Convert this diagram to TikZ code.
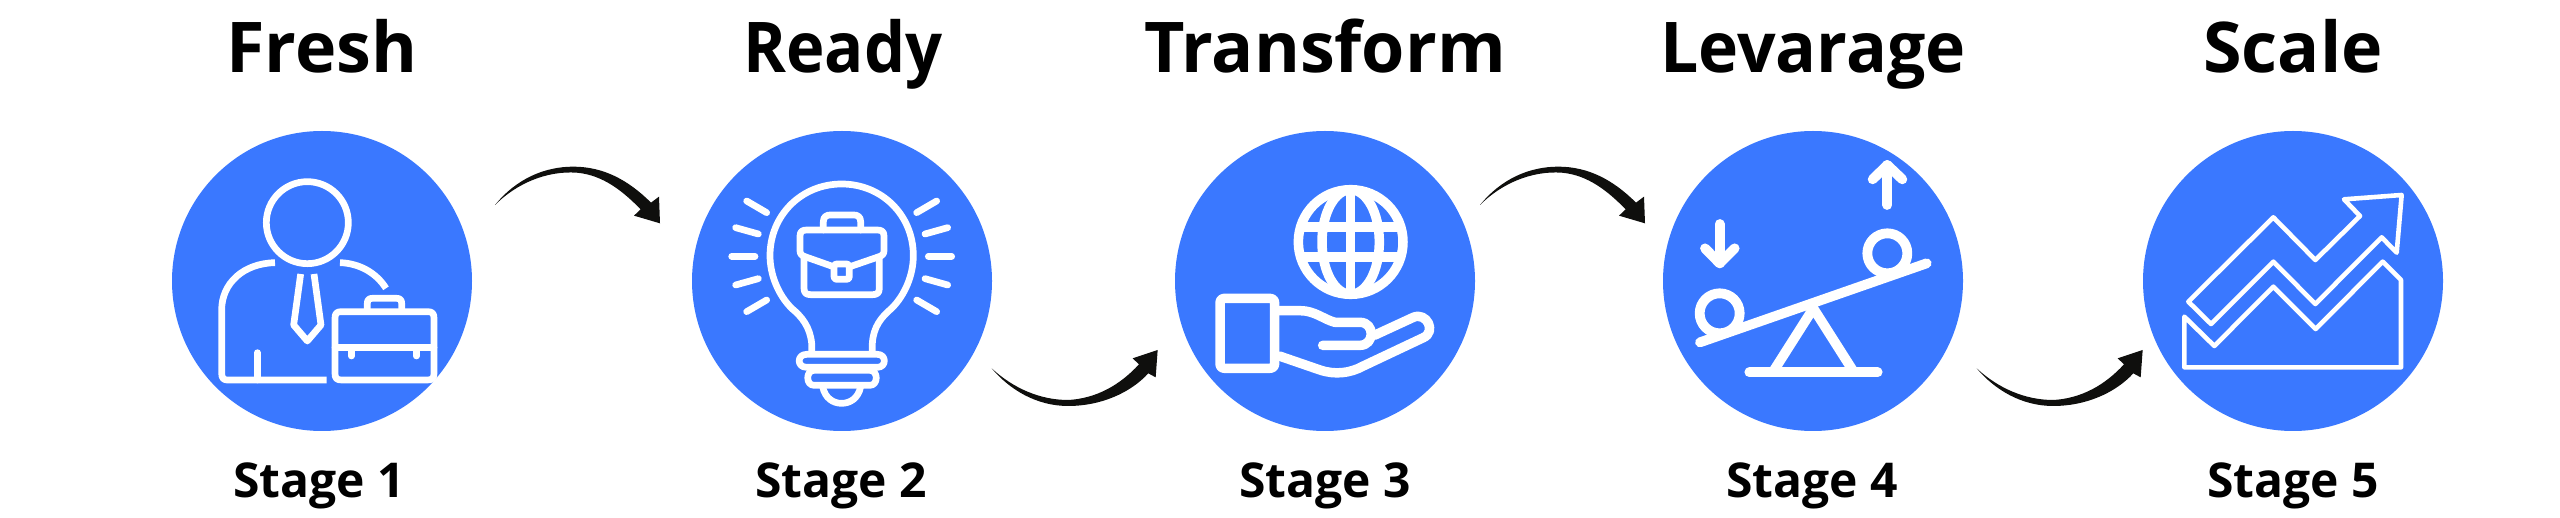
\documentclass[tikz,border=0pt]{standalone}
\usepackage{fontspec}
\setmainfont{Open Sans}
\definecolor{disc}{HTML}{3A78FF}
\definecolor{ink}{HTML}{0F0F0D}
\newcommand{\arrowover}{%
  \fill[ink] (45,165) .. controls (110,85) and (195,50) .. (280,50) .. controls (370,50) and (445,90) .. (513,158)
    -- (537,140) -- (540,220) -- (462,197) -- (482,178) .. controls (430,125) and (370,75) .. (290,68)
    .. controls (200,62) and (110,100) .. cycle;}
\newcommand{\arrowunder}{%
  \fill[ink] (35,115) .. controls (90,180) and (170,228) .. (265,228) .. controls (360,228) and (450,190) .. (505,130)
    -- (527,142) -- (533,60) -- (458,85) -- (477,103) .. controls (420,165) and (350,205) .. (265,210)
    .. controls (180,210) and (100,175) .. cycle;}
\tikzset{
  disc/.style={circle,fill=disc,minimum size=300pt,inner sep=0pt},
  ttl/.style={anchor=base,inner sep=0pt,text=black,font=\fontsize{70}{80}\selectfont\bfseries},
  stg/.style={anchor=base,inner sep=0pt,text=black,font=\fontsize{48}{58}\selectfont\bfseries},
  zoomed/.style={x=0.33333pt,y=-0.33333pt},
  icon/.style={draw=white,line width=6.7pt,line cap=round,line join=round},
  thin icon/.style={draw=white,line width=4.6pt,line join=round,line cap=round},
}
\begin{document}
\begin{tikzpicture}[x=1pt,y=-1pt]
\useasboundingbox (0,0) rectangle (2560,518);
\fill[white] (0,0) rectangle (2560,518);
% discs
\node[disc] (d1) at (322,281) {};
\node[disc] (d2) at (842,281) {};
\node[disc] (d3) at (1325,281) {};
\node[disc] (d4) at (1813,281) {};
\node[disc] (d5) at (2293,281) {};
% titles
\node[ttl] (t1) at (322,73) {Fresh};
\node[ttl] (t2) at (843,73) {\scalebox{0.93}[1]{Ready}};
\node[ttl] (t3) at (1325,73) {Transform};
\node[ttl] (t4) at (1813,73) {\scalebox{0.97}[1]{Levarage}};
\node[ttl] (t5) at (2293,73) {Scale};
% stage labels
\node[stg] (s1) at (319,497) {Stage 1};
\node[stg] (s2) at (841,497) {Stage 2};
\node[stg] (s3) at (1325,497) {Stage 3};
\node[stg] (s4) at (1812,497) {Stage 4};
\node[stg] (s5) at (2293,497) {Stage 5};
% arrows
\begin{scope}[shift={(480,150)},zoomed]\arrowover\end{scope}
\begin{scope}[shift={(1465,150)},zoomed]\arrowover\end{scope}
\begin{scope}[shift={(980,330)},zoomed]\arrowunder\end{scope}
\begin{scope}[shift={(1965,330)},zoomed]\arrowunder\end{scope}
% icon 1: person with briefcase
\begin{scope}[shift={(150,110)},zoomed]
\draw[icon] (472,338) circle (123);
\draw[icon,line cap=butt] (375,458) .. controls (280,460) and (215,520) .. (215,600) -- (215,790) .. controls (215,805) and (222,810) .. (232,810) -- (530,810);
\draw[icon,line cap=butt] (570,458) .. controls (630,460) and (680,490) .. (708,535);
\draw[icon] (322,728) -- (322,810);
\draw[icon,line cap=butt] (452,492) -- (431,645) -- (472,693) -- (513,645) -- (492,492);
\draw[icon] (555,625) .. controls (555,610) and (560,605) .. (575,605) -- (832,605) .. controls (847,605) and (852,610) .. (852,625) -- (852,790) .. controls (852,805) and (847,810) .. (832,810) -- (575,810) .. controls (560,810) and (555,805) .. (555,790) -- cycle;
\draw[icon] (652,600) -- (652,580) .. controls (652,570) and (657,565) .. (667,565) -- (740,565) .. controls (750,565) and (755,570) .. (755,580) -- (755,600);
\draw[icon] (555,713) -- (852,713);
\draw[icon] (604,713) -- (604,738);
\draw[icon] (799,713) -- (799,738);
\end{scope}
% icon 2: bulb with briefcase
\begin{scope}[shift={(670,110)},zoomed]
\draw[icon,line cap=butt] (425,725) -- (425,700) .. controls (420,650) and (395,620) .. (365,595) .. controls (325,555) and (300,495) .. (300,437) .. controls (300,315) and (395,222) .. (515,222) .. controls (635,222) and (730,315) .. (730,437) .. controls (730,495) and (705,555) .. (665,595) .. controls (635,620) and (610,650) .. (607,700) -- (607,725);
\draw[icon] (410,733) -- (622,733) .. controls (650,733) and (650,772) .. (622,772) -- (410,772) .. controls (380,772) and (380,733) .. (410,733) -- cycle;
\draw[icon] (432,781) -- (600,781) .. controls (625,781) and (625,826) .. (600,826) -- (432,826) .. controls (407,826) and (407,781) .. (432,781) -- cycle;
\draw[icon,line cap=butt] (458,830) .. controls (465,865) and (490,880) .. (515,880) .. controls (540,880) and (565,865) .. (572,830);
\draw[icon] (460,360) -- (460,335) .. controls (460,320) and (470,315) .. (480,315) -- (552,315) .. controls (562,315) and (572,320) .. (572,335) -- (572,360);
\draw[icon] (490,470) -- (405,440) .. controls (395,437) and (390,432) .. (390,422) -- (390,378) .. controls (390,365) and (397,360) .. (410,360) -- (622,360) .. controls (635,360) and (642,365) .. (642,378) -- (642,422) .. controls (642,432) and (637,437) .. (627,440) -- (540,470);
\draw[icon] (402,445) -- (402,535) .. controls (402,550) and (410,554) .. (422,554) -- (608,554) .. controls (620,554) and (628,550) .. (628,535) -- (628,445);
\draw[icon] (492,470) .. controls (492,465) and (495,462) .. (500,462) -- (530,462) .. controls (535,462) and (538,465) .. (538,470) -- (538,500) .. controls (538,505) and (535,508) .. (530,508) -- (500,508) .. controls (495,508) and (492,505) .. (492,500) -- cycle;
\foreach \a/\b/\c/\d in {230/273/290/308,197/353/265/372,185/439/255/439,197/525/265/506,230/605/290/570}{
  \draw[icon] (\a,\b) -- (\c,\d);
  \draw[icon] ({1030-\a},\b) -- ({1030-\c},\d);
}
\end{scope}
% icon 3: hand and globe
\begin{scope}[shift={(1160,110)},zoomed]
\draw[icon,line width=9.5pt] (572,396) circle (157);
\begin{scope}
\clip (572,396) circle (157);
\draw[icon,line width=9.5pt,line cap=butt] (572,230) -- (572,560);
\draw[icon,line width=9.5pt,line cap=butt] (400,351) -- (745,351);
\draw[icon,line width=9.5pt,line cap=butt] (400,441) -- (745,441);
\draw[icon,line width=9.5pt] (572,396) ellipse [x radius=86,y radius=157];
\end{scope}
\draw[icon,line width=9.5pt] (180,580) .. controls (180,570) and (185,565) .. (195,565) -- (328,565) .. controls (338,565) and (344,570) .. (344,580) -- (344,760) .. controls (344,770) and (338,775) .. (328,775) -- (195,775) .. controls (185,775) and (180,770) .. (180,760) -- cycle;
\draw[icon,line width=9.5pt] (358,602) -- (420,602) .. controls (465,602) and (490,628) .. (525,637) -- (600,637) .. controls (645,637) and (645,706) .. (600,706) -- (488,706);
\draw[icon,line width=9.5pt] (643,676) -- (760,622) .. controls (800,605) and (830,665) .. (790,683) -- (610,768) .. controls (570,790) and (525,795) .. (480,780) -- (358,738);
\end{scope}
% icon 4: seesaw
\begin{scope}[shift={(1650,110)},zoomed]
\draw[icon,line width=9.8pt] (150,697) -- (830,460);
\draw[icon,line width=9.8pt] (209,610) circle (60);
\draw[icon,line width=9.8pt] (712,430) circle (60);
\draw[icon,line width=9.8pt,line cap=butt] (368,787) -- (490,595) -- (612,787);
\draw[icon,line width=9.8pt] (298,787) -- (683,787);
\draw[icon,line width=9.8pt] (209,342) -- (209,460);
\draw[icon,line width=9.8pt] (165,415) -- (209,460) -- (254,415);
\draw[icon,line width=9.8pt] (712,285) -- (712,165);
\draw[icon,line width=9.8pt] (668,208) -- (712,165) -- (757,208);
\end{scope}
% icon 5: chart
\begin{scope}[shift={(2130,110)},zoomed]
\draw[thin icon] (175,575) -- (430,322) -- (556,450) -- (690,318) -- (642,268) -- (815,255) -- (800,428) -- (755,382) -- (556,582) -- (430,455) -- (243,642) -- cycle;
\draw[thin icon] (163,620) -- (253,708) -- (430,530) -- (557,657) -- (758,455) -- (813,510) -- (813,772) -- (163,772) -- cycle;
\end{scope}
\end{tikzpicture}
\end{document}
